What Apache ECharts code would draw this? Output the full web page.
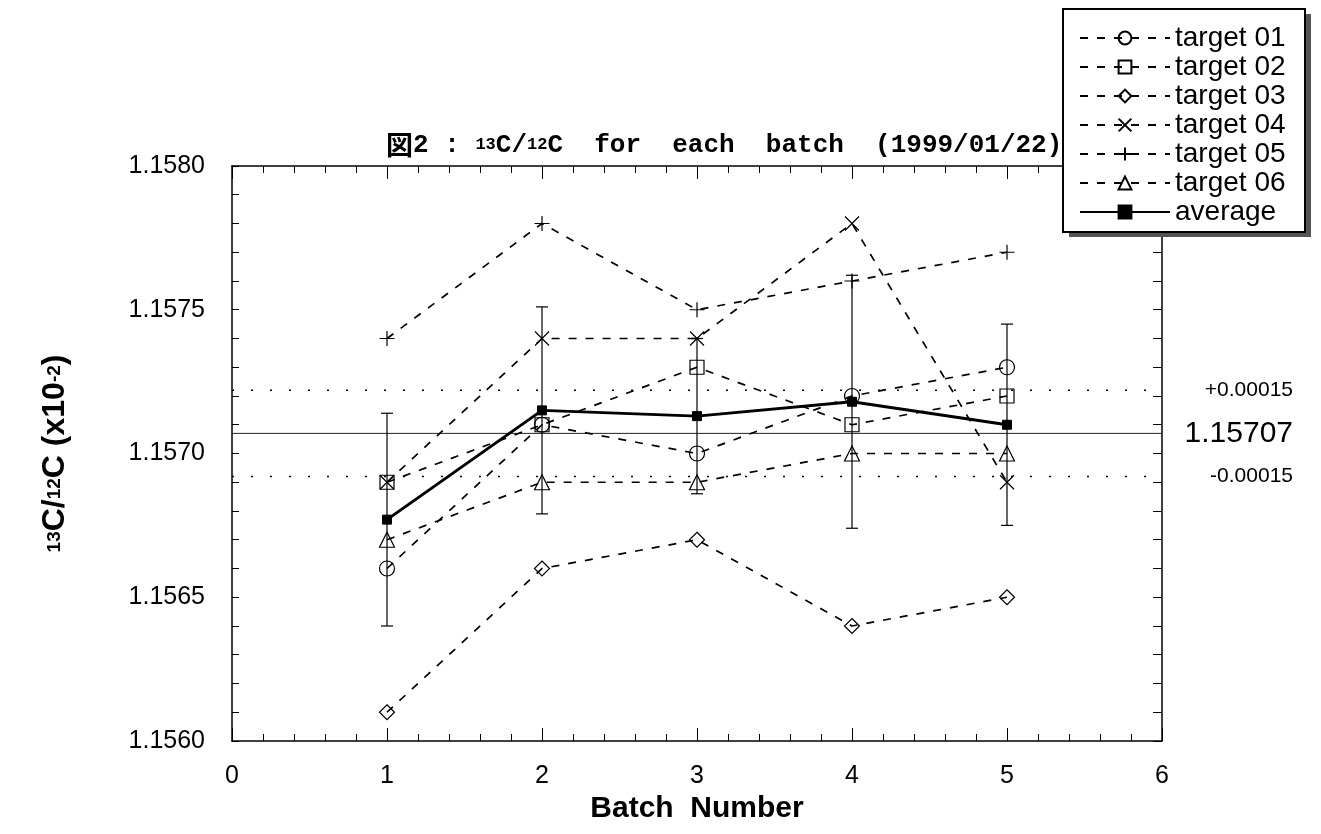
<!DOCTYPE html>
<html><head><meta charset="utf-8">
<script src="https://cdn.jsdelivr.net/npm/echarts@6/dist/echarts.min.js"></script>
<style>html,body{margin:0;padding:0;background:#fff}#c{width:1321px;height:834px}</style>
</head><body><div id="c"></div>
<script>
// ---- data ----
const batches = [1, 2, 3, 4, 5];
const target01 = [1.1566, 1.1571, 1.1570, 1.1572, 1.1573];
const target02 = [1.1569, 1.1571, 1.1573, 1.1571, 1.1572];
const target03 = [1.1561, 1.1566, 1.1567, 1.1564, 1.1565];
const target04 = [1.1569, 1.1574, 1.1574, 1.1578, 1.1569];
const target05 = [1.1574, 1.1578, 1.1575, 1.1576, 1.1577];
const target06 = [1.1567, 1.1569, 1.1569, 1.1570, 1.1570];
const average  = [1.15677, 1.15715, 1.15713, 1.15718, 1.15710];
const avgErr   = [0.00037, 0.00036, 0.00027, 0.00044, 0.00035];
const refValue = 1.15707;
const refBand = 0.00015;
const refLabels = ['+0.00015', '1.15707', '-0.00015'];
const seriesNames = ['target 01', 'target 02', 'target 03', 'target 04', 'target 05', 'target 06', 'average'];
const xRange = [0, 6];
const yRange = [1.1560, 1.1580];
const yStep = 0.0005;

const SANS = 'Liberation Sans, Arial, Helvetica, sans-serif';
const MONO = 'Liberation Mono, DejaVu Sans Mono, monospace';
const CROSS = 'path://M0,0L10,10M10,0L0,10';
const PLUS = 'path://M5,0L5,10M0,5L10,5';

function pts(vals) { return batches.map((b, i) => [b, vals[i]]); }
function targetSeries(name, vals, symbol, size) {
  return {
    name, type: 'line', data: pts(vals), symbol, symbolSize: size,
    lineStyle: { color: '#000', width: 1.7, type: [8, 9] },
    itemStyle: { color: 'rgba(255,255,255,0)', borderColor: '#000', borderWidth: 1.2 },
    z: 3, silent: true
  };
}
function hLine(name, v, style) {
  return {
    name, type: 'line', data: [[xRange[0], v], [xRange[1], v]], symbol: 'none',
    lineStyle: style, z: 1, silent: true
  };
}

const refLevels = [refValue + refBand, refValue, refValue - refBand];
const refSizes = [21, 30, 21];

const chart = echarts.init(document.getElementById('c'), null, { renderer: 'canvas' });
const axisLine = { show: true, onZero: false, lineStyle: { color: '#000', width: 1.5 } };
const LEG = { x: 1063, y: 9, w: 242, h: 223 };

chart.setOption({
  animation: false,
  backgroundColor: '#fff',
  title: {
    text: '{k|図}{m|2 : }{s|13}{m|C/}{s|12}{m|C  for  each  batch  (1999/01/22)}',
    left: 386, top: 129, padding: 0,
    textStyle: {
      rich: {
        k: { fontFamily: 'Noto Sans CJK JP', fontWeight: 'bold', fontSize: 27, color: '#000', height: 32, verticalAlign: 'bottom' },
        m: { fontFamily: MONO, fontSize: 26, color: '#000', height: 32, verticalAlign: 'bottom' },
        s: { fontFamily: MONO, fontSize: 17, color: '#000', verticalAlign: 'top', height: 32 }
      }
    }
  },
  graphic: [
    { type: 'rect', z: 18, silent: true, shape: { x: LEG.x + 6, y: LEG.y + 5, width: LEG.w, height: LEG.h }, style: { fill: '#555' } },
    { type: 'rect', z: 19, silent: true, shape: { x: LEG.x, y: LEG.y, width: LEG.w, height: LEG.h }, style: { fill: '#fff', stroke: '#000', lineWidth: 2 } }
  ],
  grid: { left: 232, right: 159, top: 166, bottom: 93 },
  legend: {
    orient: 'vertical', left: LEG.x, top: LEG.y, z: 20,
    data: seriesNames,
    itemWidth: 90, itemHeight: 16, itemGap: 1,
    padding: [15, 18, 14, 16],
    selectedMode: false,
    textStyle: { fontFamily: SANS, fontSize: 28, lineHeight: 27, color: '#000' }
  },
  xAxis: [
    {
      type: 'value', min: xRange[0], max: xRange[1], interval: 1, position: 'bottom',
      axisLine, splitLine: { show: false },
      axisTick: { show: true, inside: true, length: 13, lineStyle: { color: '#000', width: 1 } },
      minorTick: { show: true, splitNumber: 5, length: 7, lineStyle: { color: '#000', width: 1 } },
      axisLabel: { fontFamily: SANS, fontSize: 25, color: '#000', margin: 23 },
      name: 'Batch  Number', nameLocation: 'middle', nameGap: 52,
      nameTextStyle: { fontFamily: SANS, fontWeight: 'bold', fontSize: 30, color: '#000' }
    },
    {
      type: 'value', min: xRange[0], max: xRange[1], interval: 1, position: 'top',
      axisLine, splitLine: { show: false },
      axisTick: { show: true, inside: true, length: 13, lineStyle: { color: '#000', width: 1 } },
      minorTick: { show: true, splitNumber: 5, length: 7, lineStyle: { color: '#000', width: 1 } },
      axisLabel: { show: false }
    }
  ],
  yAxis: [
    {
      type: 'value', min: yRange[0], max: yRange[1], interval: yStep, position: 'left',
      axisLine, splitLine: { show: false },
      axisTick: { show: true, inside: true, length: 7, lineStyle: { color: '#000', width: 1 } },
      minorTick: { show: true, splitNumber: 5, length: 7, lineStyle: { color: '#000', width: 1 } },
      axisLabel: { fontFamily: SANS, fontSize: 25, color: '#000', margin: 27, formatter: v => v.toFixed(4) },
      name: '{s|13}{b|C/}{s|12}{b|C (x10}{s|-2}{b|)}', nameLocation: 'middle', nameRotate: 90, nameGap: 158,
      nameTextStyle: {
        rich: {
          b: { fontFamily: SANS, fontWeight: 'bold', fontSize: 32, color: '#000', height: 38, verticalAlign: 'bottom' },
          s: { fontFamily: SANS, fontWeight: 'bold', fontSize: 19, color: '#000', height: 38, verticalAlign: 'top' }
        }
      }
    },
    {
      type: 'value', min: yRange[0], max: yRange[1], interval: yStep, position: 'right',
      axisLine, splitLine: { show: false },
      axisTick: { show: true, inside: true, length: 9, lineStyle: { color: '#000', width: 1 } },
      minorTick: { show: true, splitNumber: 5, length: 9, lineStyle: { color: '#000', width: 1 } },
      axisLabel: { show: false }
    }
  ],
  series: [
    hLine('ref', refValue, { color: '#222', width: 1, type: 'solid' }),
    hLine('ref+', refValue + refBand, { color: '#000', width: 1.5, type: [2, 17] }),
    hLine('ref-', refValue - refBand, { color: '#000', width: 1.5, type: [2, 17] }),
    {
      name: 'refLabels', type: 'custom', silent: true, clip: false, z: 2,
      data: refLevels.map(v => [xRange[1], v]),
      encode: { x: 0, y: 1 },
      renderItem(params, api) {
        const p = api.coord([api.value(0), api.value(1)]);
        return {
          type: 'text', x: p[0] + 131, y: p[1],
          style: {
            text: refLabels[params.dataIndex], fill: '#000', align: 'right', verticalAlign: 'middle',
            font: refSizes[params.dataIndex] + 'px ' + SANS
          }
        };
      }
    },
    {
      name: 'err', type: 'custom', silent: true, z: 2,
      data: batches.map((b, i) => [b, average[i] - avgErr[i], average[i] + avgErr[i]]),
      encode: { x: 0, y: [1, 2] },
      renderItem(params, api) {
        const x = api.value(0);
        const lo = api.coord([x, api.value(1)]);
        const hi = api.coord([x, api.value(2)]);
        const w = 6;
        const st = { stroke: '#000', lineWidth: 1.2 };
        return {
          type: 'group', children: [
            { type: 'line', shape: { x1: lo[0], y1: lo[1], x2: hi[0], y2: hi[1] }, style: st },
            { type: 'line', shape: { x1: lo[0] - w, y1: lo[1], x2: lo[0] + w, y2: lo[1] }, style: st },
            { type: 'line', shape: { x1: hi[0] - w, y1: hi[1], x2: hi[0] + w, y2: hi[1] }, style: st }
          ]
        };
      }
    },
    targetSeries('target 01', target01, 'circle', 15),
    targetSeries('target 02', target02, 'rect', 14),
    targetSeries('target 03', target03, 'diamond', 15),
    targetSeries('target 04', target04, CROSS, 14),
    targetSeries('target 05', target05, PLUS, 15),
    targetSeries('target 06', target06, 'triangle', 15),
    {
      name: 'average', type: 'line', data: pts(average), symbol: 'rect', symbolSize: 9,
      lineStyle: { color: '#000', width: 3, type: 'solid' },
      itemStyle: { color: '#000', borderColor: '#000', borderWidth: 1 },
      z: 5, silent: true
    }
  ]
});
</script>
</body></html>
